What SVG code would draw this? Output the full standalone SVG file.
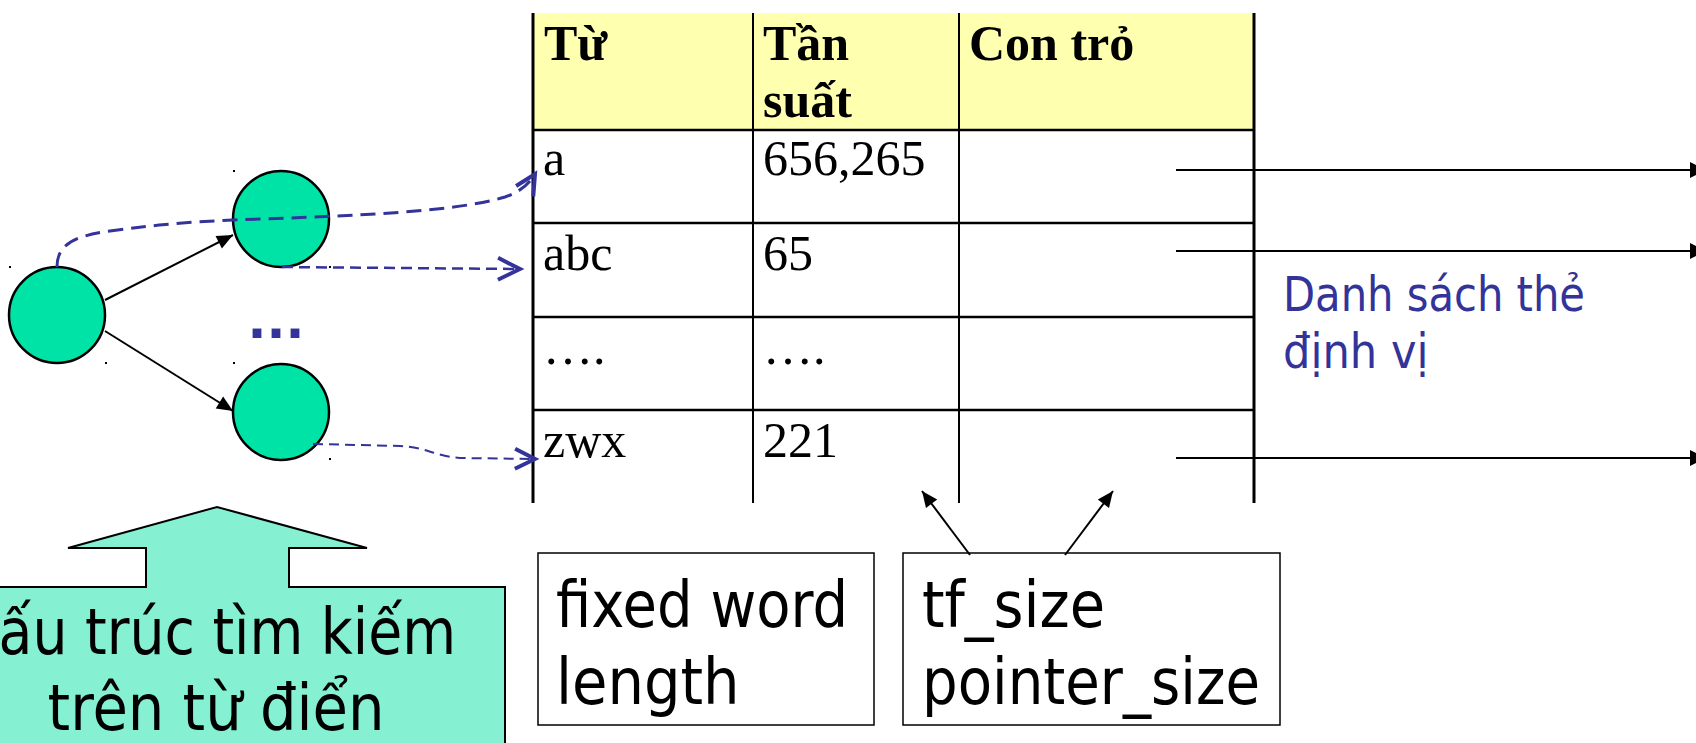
<svg xmlns="http://www.w3.org/2000/svg" width="1696" height="743" viewBox="0 0 1696 743">
<style>
.circ{fill:#00E3A6;stroke:#000;stroke-width:2.5}
.tb{stroke:#000;fill:none}
.th{font-family:"Liberation Serif",serif;font-weight:bold;font-size:50px;fill:#000}
.td{font-family:"Liberation Serif",serif;font-size:50px;fill:#000}
.sans{font-family:"DejaVu Sans Condensed","DejaVu Sans",sans-serif;fill:#000}
.blue{fill:#333399}
.dash{fill:none;stroke:#333399}
.blk{stroke:#000;stroke-width:2;fill:none}
.box{fill:#fff;stroke:#000;stroke-width:1.5}
.dot{fill:#000}
</style>
<defs>
<marker id="tri" markerUnits="userSpaceOnUse" markerWidth="16" markerHeight="14" viewBox="0 0 16 14" refX="16" refY="7" orient="auto" overflow="visible">
<path d="M0,0 L16,7 L0,14 z" fill="#000"/>
</marker>
<marker id="triR" markerUnits="userSpaceOnUse" markerWidth="16" markerHeight="16" viewBox="0 0 16 16" refX="16" refY="8" orient="auto" overflow="visible">
<path d="M0,0 L16,8 L0,16 z" fill="#000"/>
</marker>
<marker id="chev" markerUnits="userSpaceOnUse" markerWidth="24" markerHeight="24" viewBox="0 0 24 24" refX="22" refY="11" orient="auto" overflow="visible">
<path d="M0,0 L22,11 L0,22" fill="none" stroke="#333399" stroke-width="4"/>
</marker>
<marker id="chevS" markerUnits="userSpaceOnUse" markerWidth="22" markerHeight="22" viewBox="0 0 22 22" refX="20" refY="10" orient="auto" overflow="visible">
<path d="M0,0 L20,10 L0,20" fill="none" stroke="#333399" stroke-width="4"/>
</marker>
</defs>

<g id="callout">
<polygon points="-80,587 146,587 146,548 68,548 217,507 367,548 289,548 289,587 505,587 505,760 -80,760" fill="#86F0D2" stroke="#000" stroke-width="2"/>
<text class="sans" font-size="64" x="-40" y="654" textLength="496" lengthAdjust="spacingAndGlyphs">Cấu trúc tìm kiếm</text>
<text class="sans" font-size="64" text-anchor="middle" x="216" y="730">trên từ điển</text>
</g>

<g id="table">
<rect x="533" y="13" width="721" height="117" fill="#FFFFB0"/>
<line class="tb" stroke-width="2.5" x1="533" y1="130" x2="1254" y2="130"/>
<line class="tb" stroke-width="2.5" x1="533" y1="223" x2="1254" y2="223"/>
<line class="tb" stroke-width="2.5" x1="533" y1="317" x2="1254" y2="317"/>
<line class="tb" stroke-width="2.5" x1="533" y1="410" x2="1254" y2="410"/>
<line class="tb" stroke-width="3" x1="533" y1="13" x2="533" y2="503"/>
<line class="tb" stroke-width="2" x1="753" y1="13" x2="753" y2="503"/>
<line class="tb" stroke-width="2" x1="959" y1="13" x2="959" y2="503"/>
<line class="tb" stroke-width="3" x1="1254" y1="13" x2="1254" y2="503"/>
<text class="th" x="544" y="60">Từ</text>
<text class="th" x="763" y="60">Tần</text>
<text class="th" x="763" y="117">suất</text>
<text class="th" x="969" y="60">Con trỏ</text>
<text class="td" x="543" y="175">a</text>
<text class="td" x="763" y="175">656,265</text>
<text class="td" x="543" y="270">abc</text>
<text class="td" x="763" y="270">65</text>
<text class="td" x="543" y="364">….</text>
<text class="td" x="763" y="364">….</text>
<text class="td" x="543" y="457">zwx</text>
<text class="td" x="763" y="457">221</text>
</g>

<g id="root-node"><circle class="circ" cx="57" cy="315" r="48"/></g>
<g id="child-top"><circle class="circ" cx="281" cy="219" r="48"/></g>
<g id="child-bottom"><circle class="circ" cx="281" cy="412" r="48"/></g>
<g id="ellipsis"><text class="blue" x="276" y="338" text-anchor="middle" font-family="DejaVu Sans,sans-serif" font-weight="bold" font-size="50">...</text></g>

<g id="handles">
<rect class="dot" x="9" y="266" width="2" height="2"/>
<rect class="dot" x="233" y="170" width="2" height="2"/>
<rect class="dot" x="105" y="362" width="2" height="2"/>
<rect class="dot" x="233" y="362" width="2" height="2"/>
<rect class="dot" x="329" y="266" width="2" height="2"/>
<rect class="dot" x="329" y="458" width="2" height="2"/>
</g>

<g id="legend-posting">
<text class="sans blue" font-size="48" x="1283" y="311" textLength="302" lengthAdjust="spacingAndGlyphs">Danh sách thẻ</text>
<text class="sans blue" font-size="48" x="1283" y="368">định vị</text>
</g>

<g id="box-word">
<rect class="box" x="538" y="553" width="336" height="172"/>
<text class="sans" font-size="64" x="556" y="627" textLength="292" lengthAdjust="spacingAndGlyphs">fixed word</text>
<text class="sans" font-size="64" x="556" y="704">length</text>
</g>

<g id="box-size">
<rect class="box" x="903" y="553" width="377" height="172"/>
<text class="sans" font-size="64" x="922" y="627">tf_size</text>
<text class="sans" font-size="64" x="922" y="704" textLength="338" lengthAdjust="spacingAndGlyphs">pointer_size</text>
</g>

<g id="connectors">
<line class="blk" x1="105" y1="300" x2="233" y2="235" marker-end="url(#tri)"/>
<line class="blk" x1="105" y1="331" x2="233" y2="411" marker-end="url(#tri)"/>
<path class="dash" stroke-width="3" stroke-dasharray="15 8" d="M57,267 C57,246 72,236 110,231 C160,224 200,221 260,219 C380,215 462,210 505,197 C520,192 529,184 535,174" marker-end="url(#chevS)"/>
<path class="dash" stroke-width="2.5" stroke-dasharray="11 6" d="M282,267 L520,269" marker-end="url(#chev)"/>
<path class="dash" stroke-width="2" stroke-dasharray="10 6" d="M313,444 L400,446 C425,447 435,456 460,458 L535,459" marker-end="url(#chevS)"/>
<line class="blk" x1="1176" y1="170" x2="1706" y2="170" marker-end="url(#triR)"/>
<line class="blk" x1="1176" y1="251" x2="1706" y2="251" marker-end="url(#triR)"/>
<line class="blk" x1="1176" y1="458" x2="1706" y2="458" marker-end="url(#triR)"/>
<line class="blk" x1="970" y1="555" x2="922" y2="491" marker-end="url(#tri)"/>
<line class="blk" x1="1065" y1="555" x2="1113" y2="491" marker-end="url(#tri)"/>
</g>
</svg>
